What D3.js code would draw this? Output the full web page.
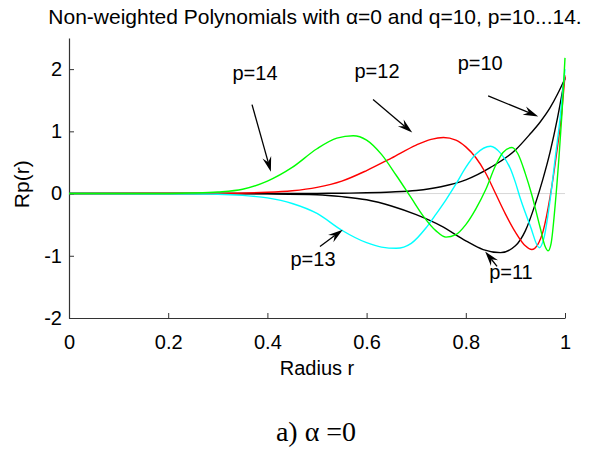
<!DOCTYPE html>
<html><head><meta charset="utf-8">
<script src="https://cdn.jsdelivr.net/npm/d3@7/dist/d3.min.js"></script>
<style>body{margin:0;background:#fff}svg{display:block}</style>
</head><body><svg id="c" width="589" height="450"></svg>
<script>
// ---- data ----
const xTicks = [0, 0.2, 0.4, 0.6, 0.8, 1];
const xTickLabels = ["0", "0.2", "0.4", "0.6", "0.8", "1"];
const yTicks = [-2, -1, 0, 1, 2];
const yTickLabels = ["-2", "-1", "0", "1", "2"];

const r10 = [0,0.4,0.5,0.55,0.6,0.65,0.7,0.75,0.8,0.85,0.9,0.93,0.95,0.97,0.985,1];
const v10 = [0,0,0.003,0.006,0.012,0.025,0.05,0.11,0.22,0.42,0.7,0.96,1.15,1.38,1.6,1.85];

const r11 = [0,0.3,0.4,0.5,0.55,0.6,0.65,0.7,0.75,0.8,0.835,0.87,0.9,0.92,0.94,0.955,0.97,0.985,1];
const v11 = [0,0,-0.005,-0.02,-0.05,-0.1,-0.2,-0.34,-0.52,-0.76,-0.9,-0.95,-0.84,-0.6,-0.17,0.22,0.67,1.22,1.87];

const r12 = [0,0.3,0.4,0.45,0.5,0.55,0.6,0.65,0.7,0.73,0.755,0.78,0.8,0.82,0.84,0.86,0.88,0.9,0.92,0.933,0.945,0.956,0.97,0.984,0.992,1];
const v12 = [0,0.003,0.02,0.045,0.1,0.2,0.37,0.57,0.78,0.87,0.9,0.86,0.75,0.58,0.33,0,-0.33,-0.62,-0.84,-0.9,-0.82,-0.6,-0.05,0.7,1.2,1.9];

const r13 = [0,0.25,0.3,0.35,0.4,0.45,0.5,0.55,0.6,0.63,0.66,0.69,0.72,0.74,0.76,0.78,0.8,0.82,0.85,0.87,0.89,0.9,0.91,0.93,0.948,0.958,0.97,0.98,0.99,1];
const v13 = [0,-0.005,-0.01,-0.03,-0.07,-0.16,-0.32,-0.59,-0.79,-0.86,-0.88,-0.8,-0.55,-0.33,-0.1,0.15,0.42,0.63,0.76,0.65,0.4,0.18,-0.08,-0.52,-0.87,-0.7,-0.1,0.55,1.2,2.0];

const r14 = [0,0.2,0.25,0.3,0.35,0.4,0.45,0.5,0.54,0.573,0.6,0.63,0.66,0.69,0.715,0.74,0.76,0.78,0.8,0.82,0.84,0.86,0.875,0.893,0.905,0.92,0.933,0.95,0.96,0.966,0.972,0.98,0.988,0.994,1];
const v14 = [0,0.002,0.008,0.025,0.07,0.2,0.42,0.72,0.89,0.93,0.86,0.63,0.29,-0.07,-0.37,-0.6,-0.7,-0.66,-0.5,-0.25,0.06,0.45,0.66,0.74,0.64,0.32,-0.02,-0.55,-0.85,-0.92,-0.8,-0.2,0.6,1.3,2.18];

const seriesNames = ["p=10", "p=11", "p=12", "p=13", "p=14"];
const seriesColors = ["#000000", "#000000", "#ff0000", "#00ffff", "#00ff00"];
const seriesR = [r10, r11, r12, r13, r14];
const seriesV = [v10, v11, v12, v13, v14];

// annotations in data units: label position, arrow tail, arrow tip
const annLabels = ["p=14", "p=12", "p=10", "p=13", "p=11"];
const annTextX = [0.375, 0.621, 0.829, 0.492, 0.891];
const annTextY = [1.83, 1.85, 1.98, -1.16, -1.37];
const annTailX = [0.369, 0.613, 0.845, 0.506, 0.863];
const annTailY = [1.43, 1.51, 1.57, -0.85, -1.17];
const annTipX  = [0.407, 0.692, 0.946, 0.552, 0.839];
const annTipY  = [0.35, 0.98, 1.24, -0.58, -0.93];

// ---- drawing ----
const svg = d3.select("#c");
const FONT = "'Liberation Sans', Arial, Helvetica, sans-serif";
const x = d3.scaleLinear().domain([0, 1]).range([69, 565]);
const y = d3.scaleLinear().domain([-2, 2.5]).range([318, 38]);

// zero reference line
svg.append("line")
  .attr("x1", x(0)).attr("x2", x(1)).attr("y1", y(0)).attr("y2", y(0))
  .attr("stroke", "#d8d8d8").attr("stroke-width", 1);

// axes
const xAxis = d3.axisBottom(x).tickValues(xTicks)
  .tickFormat((d, i) => xTickLabels[i]).tickSizeInner(-5).tickSizeOuter(0).tickPadding(17);
const gx = svg.append("g").attr("transform", `translate(0,${y(-2)})`).call(xAxis);
const yAxis = d3.axisLeft(y).tickValues(yTicks)
  .tickFormat((d, i) => yTickLabels[i]).tickSizeInner(-5).tickSizeOuter(0).tickPadding(7);
const gy = svg.append("g").attr("transform", `translate(${x(0)},0)`).call(yAxis);
[gx, gy].forEach(g => {
  g.selectAll("path.domain").attr("stroke", "#333").attr("stroke-width", 1.2);
  g.selectAll(".tick line").attr("stroke", "#333");
  g.selectAll("text").attr("font-family", FONT).attr("font-size", 20).attr("fill", "#000");
});

// curves
const line = d3.line().x(d => x(d[0])).y(d => y(d[1])).curve(d3.curveMonotoneX);
seriesR.forEach((rs, i) => {
  const pts = rs.map((r, j) => [r, seriesV[i][j]]);
  svg.append("path").datum(pts)
    .attr("d", line)
    .attr("fill", "none")
    .attr("stroke", seriesColors[i])
    .attr("stroke-width", 1.4)
    .attr("data-name", seriesNames[i]);
});

// annotations
annLabels.forEach((lab, i) => {
  svg.append("text").attr("x", x(annTextX[i])).attr("y", y(annTextY[i]))
    .attr("text-anchor", "middle").attr("font-family", FONT).attr("font-size", 20)
    .text(lab);
  const x0 = x(annTailX[i]), y0 = y(annTailY[i]), x1 = x(annTipX[i]), y1 = y(annTipY[i]);
  const a = Math.atan2(y1 - y0, x1 - x0);
  const L = 15, W = 4.5, N = 10;
  const ux = Math.cos(a), uy = Math.sin(a), px = -uy, py = ux;
  svg.append("line").attr("x1", x0).attr("y1", y0)
    .attr("x2", x1 - ux * N).attr("y2", y1 - uy * N)
    .attr("stroke", "#000").attr("stroke-width", 1.3);
  const head = [
    [x1, y1],
    [x1 - ux * L + px * W, y1 - uy * L + py * W],
    [x1 - ux * N, y1 - uy * N],
    [x1 - ux * L - px * W, y1 - uy * L - py * W]
  ];
  svg.append("path").attr("d", "M" + head.map(p => p.join(",")).join("L") + "Z")
    .attr("fill", "#000");
});

// labels
svg.append("text").attr("x", 315).attr("y", 24).attr("text-anchor", "middle")
  .attr("font-family", FONT).attr("font-size", 21)
  .text("Non-weighted Polynomials with α=0 and q=10, p=10...14.");
svg.append("text").attr("x", (x(0) + x(1)) / 2).attr("y", 375).attr("text-anchor", "middle")
  .attr("font-family", FONT).attr("font-size", 20).text("Radius r");
svg.append("text").attr("transform", `translate(29,${y(0.15)}) rotate(-90)`)
  .attr("text-anchor", "middle").attr("font-family", FONT).attr("font-size", 21).text("Rp(r)");
svg.append("text").attr("x", 316).attr("y", 441).attr("text-anchor", "middle")
  .attr("font-family", "'Liberation Serif', 'Times New Roman', serif").attr("font-size", 28)
  .text("a) α =0");
</script></body></html>
